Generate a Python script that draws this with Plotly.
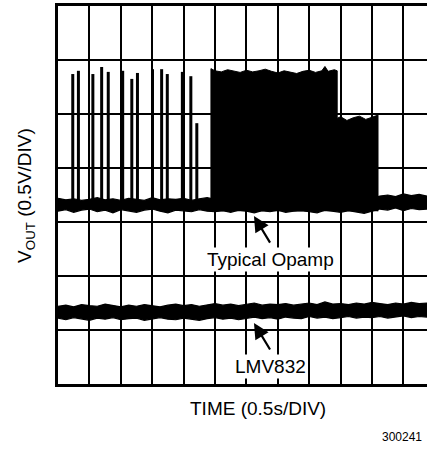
"""
Oscilloscope-style capture: Typical Opamp vs LMV832 output (0.5V/DIV, 0.5s/DIV).
"""

import plotly.graph_objects as go

# time axis in divisions (0.5 s/DIV)
time_div = [0.00, 0.25, 0.50, 0.75, 1.00, 1.25, 1.50, 1.75, 2.00, 2.25,
            2.50, 2.75, 3.00, 3.25, 3.50, 3.75, 4.00, 4.25, 4.50, 4.75,
            5.00, 5.25, 5.50, 5.75, 6.00, 6.25, 6.50, 6.75, 7.00, 7.25,
            7.50, 7.75, 8.00, 8.25, 8.50, 8.75, 9.00, 9.25, 9.50, 9.75,
            10.00, 10.25, 10.50, 10.75, 11.00, 11.25, 11.50, 11.75]

# Typical Opamp baseline band (upper / lower edge, in divisions)
typ_hi = [3.44, 3.41, 3.43, 3.40, 3.42, 3.45, 3.41, 3.43, 3.40, 3.44,
          3.42, 3.40, 3.45, 3.41, 3.43, 3.42, 3.44, 3.40, 3.43, 3.45,
          3.42, 3.42, 3.42, 3.42, 3.42, 3.42, 3.42, 3.42, 3.42, 3.42,
          3.42, 3.42, 3.42, 3.42, 3.42, 3.42, 3.42, 3.42, 3.42, 3.42,
          3.44, 3.48, 3.50, 3.47, 3.52, 3.49, 3.51, 3.48]
typ_lo = [3.20, 3.23, 3.18, 3.22, 3.24, 3.19, 3.22, 3.17, 3.23, 3.21,
          3.18, 3.22, 3.24, 3.20, 3.17, 3.22, 3.21, 3.19, 3.23, 3.20,
          3.19, 3.21, 3.18, 3.22, 3.20, 3.17, 3.21, 3.19, 3.22, 3.18,
          3.20, 3.21, 3.19, 3.17, 3.22, 3.20, 3.18, 3.21, 3.19, 3.16,
          3.20, 3.24, 3.22, 3.26, 3.21, 3.25, 3.23, 3.24]

# popcorn spikes before the burst
spike_t = [0.47, 0.65, 1.11, 1.39, 1.60, 2.06, 2.35, 2.53, 3.01, 3.30,
           3.48, 3.96, 4.23, 4.42]
spike_top = [5.74, 5.80, 5.74, 5.87, 5.78, 5.80, 5.65, 5.76, 5.83, 5.83,
             5.74, 5.78, 5.70, 4.83]
spike_base = 3.30

# dense burst envelope
block_t = [4.87, 5.0, 5.2, 5.4, 5.6, 5.8, 6.0, 6.2, 6.4, 6.6, 6.8, 7.0,
           7.2, 7.4, 7.6, 7.8, 8.0, 8.2, 8.4, 8.5, 8.6, 8.8, 8.89,
           8.89, 9.0, 9.2, 9.4, 9.6, 9.8, 10.0, 10.19]
block_top = [5.84, 5.80, 5.78, 5.82, 5.79, 5.77, 5.81, 5.78, 5.80, 5.83,
             5.79, 5.76, 5.80, 5.78, 5.75, 5.79, 5.81, 5.77, 5.80, 5.88,
             5.79, 5.82, 5.80,
             4.92, 4.95, 4.88, 4.93, 4.96, 4.90, 4.94, 4.98]
block_base = 3.20

# LMV832 band
lmv_hi = [1.44, 1.46, 1.43, 1.47, 1.45, 1.44, 1.48, 1.45, 1.43, 1.46,
          1.44, 1.47, 1.45, 1.43, 1.46, 1.48, 1.45, 1.47, 1.44, 1.46,
          1.49, 1.46, 1.48, 1.45, 1.47, 1.50, 1.46, 1.48, 1.47, 1.49,
          1.46, 1.48, 1.50, 1.47, 1.52, 1.48, 1.49, 1.47, 1.50, 1.48,
          1.51, 1.49, 1.47, 1.50, 1.48, 1.51, 1.49, 1.50]
lmv_lo = [1.22, 1.19, 1.23, 1.21, 1.18, 1.22, 1.20, 1.23, 1.19, 1.21,
          1.22, 1.18, 1.21, 1.23, 1.20, 1.19, 1.22, 1.20, 1.18, 1.21,
          1.23, 1.20, 1.22, 1.19, 1.22, 1.24, 1.21, 1.23, 1.20, 1.24,
          1.22, 1.21, 1.25, 1.22, 1.24, 1.21, 1.23, 1.25, 1.22, 1.24,
          1.23, 1.25, 1.22, 1.24, 1.26, 1.23, 1.25, 1.24]

FONT = "Liberation Sans, Arial, sans-serif"
INK = "black"

fig = go.Figure()


def add_band(lo, hi):
    fig.add_trace(go.Scatter(x=time_div, y=lo, mode='lines',
                             line=dict(color=INK, width=1.2),
                             hoverinfo='skip', showlegend=False))
    fig.add_trace(go.Scatter(x=time_div, y=hi, mode='lines',
                             line=dict(color=INK, width=1.2),
                             fill='tonexty', fillcolor=INK,
                             hoverinfo='skip', showlegend=False))


add_band(typ_lo, typ_hi)
add_band(lmv_lo, lmv_hi)

# spikes
sx, sy = [], []
for t, top in zip(spike_t, spike_top):
    sx += [t, t, None]
    sy += [spike_base, top, None]
fig.add_trace(go.Scatter(x=sx, y=sy, mode='lines',
                         line=dict(color=INK, width=3),
                         hoverinfo='skip', showlegend=False))

# burst block
bx = [block_t[0]] + block_t + [block_t[-1]]
by = [block_base] + block_top + [block_base]
fig.add_trace(go.Scatter(x=bx, y=by, mode='lines', fill='toself',
                         fillcolor=INK, line=dict(color=INK, width=1),
                         hoverinfo='skip', showlegend=False))

axis_common = dict(showgrid=True, gridcolor=INK, gridwidth=1.6,
                   showticklabels=False, ticks='', zeroline=False,
                   showline=True, linecolor=INK, linewidth=2.5,
                   dtick=1, tick0=0, fixedrange=True)

fig.update_xaxes(range=[0, 11.75], mirror=True, **axis_common)
fig.update_yaxes(range=[0, 7], mirror=False, **axis_common)

annotations = [
    dict(text="V<sub>OUT</sub> (0.5V/DIV)", textangle=-90,
         xref='paper', yref='paper', x=-0.087, y=0.5,
         xanchor='center', yanchor='middle',
         font=dict(size=19), showarrow=False),
    dict(text="TIME (0.5s/DIV)", xref='paper', yref='paper',
         x=0.542, y=-0.0635, xanchor='center', yanchor='middle',
         font=dict(size=19), showarrow=False),
    dict(text="300241", xref='paper', yref='paper', x=0.992, y=-0.140,
         xanchor='right', yanchor='middle',
         font=dict(size=12), showarrow=False),
    dict(text="Typical Opamp", x=6.78, y=2.31, font=dict(size=19),
         showarrow=False, bgcolor='white'),
    dict(text="LMV832", x=6.78, y=0.333, font=dict(size=19),
         showarrow=False, bgcolor='white'),
    dict(text="", x=6.24, y=3.11, ax=17, ay=28, showarrow=True,
         arrowhead=2, arrowsize=1.4, arrowwidth=2.2, arrowcolor=INK),
    dict(text="", x=6.24, y=1.13, ax=17, ay=28, showarrow=True,
         arrowhead=2, arrowsize=1.4, arrowwidth=2.2, arrowcolor=INK),
]

fig.update_layout(
    width=427, height=452,
    margin=dict(l=58, r=0, t=6, b=68),
    paper_bgcolor='white', plot_bgcolor='white',
    font=dict(family=FONT, color=INK),
    annotations=annotations,
    showlegend=False,
)

# drop the browser's default page margin so the figure sits at the corner
fig.write_html("out.html", config={'displayModeBar': False},
               post_script="document.body.style.margin='0';")
